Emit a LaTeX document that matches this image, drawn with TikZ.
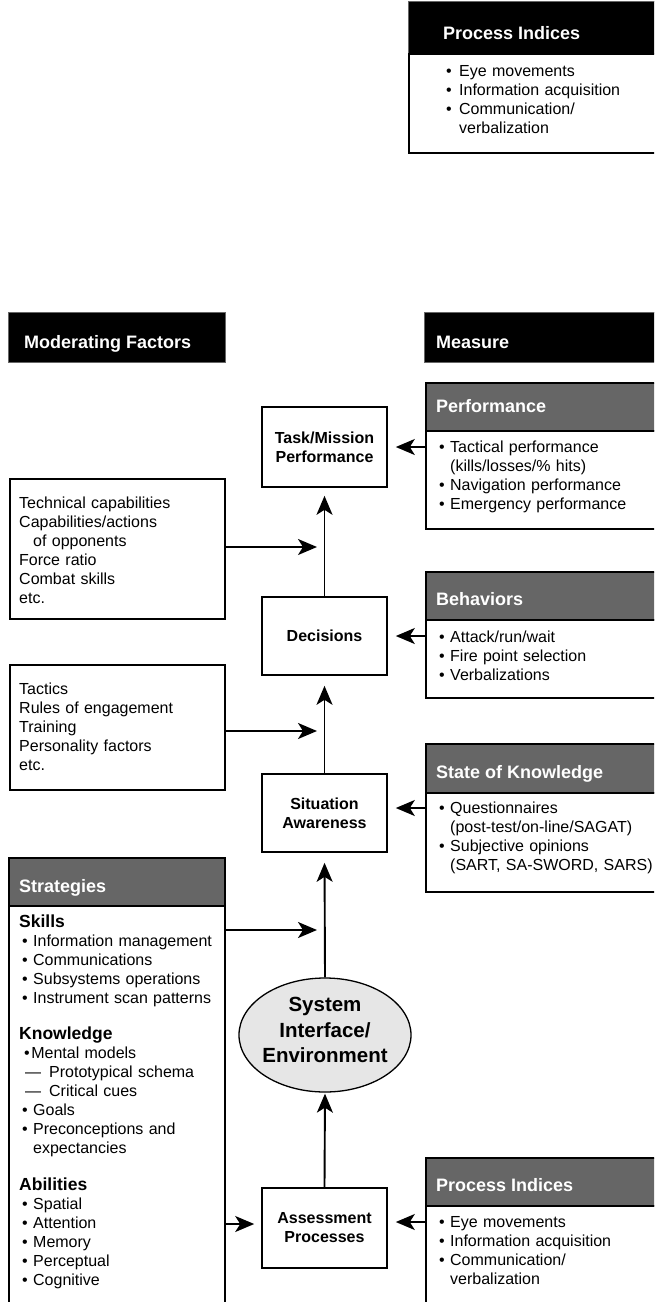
\documentclass[tikz,border=0pt]{standalone}
\usepackage{fontspec}
\setmainfont{Liberation Sans}
\usetikzlibrary{arrows.meta,shapes.geometric}
\definecolor{hdrgray}{HTML}{666666}
\definecolor{envgray}{HTML}{E6E6E6}
\newcommand\fntbody{\fontsize{16}{19}\selectfont}
\newcommand\fnthdr{\fontsize{18}{21}\selectfont\bfseries}
\newcommand\fntlbl{\fontsize{16}{19}\selectfont\bfseries}
\newcommand\fntsec{\fontsize{17.5}{19}\selectfont\bfseries}
\newcommand\fntenv{\fontsize{20.5}{25.5}\selectfont\bfseries}
\newcommand\itm[1]{\hspace*{3pt}\makebox[11pt][l]{•}#1}
\newcommand\cont[1]{\hspace*{14pt}#1}
\tikzset{
  box/.style={draw, line width=1.6pt, rectangle, inner sep=0pt, anchor=north west},
  blackhdr/.style={fill=black, draw=black!60, line width=0.6pt, rectangle, inner sep=0pt, anchor=north west},
  grayhdr/.style={fill=hdrgray, draw=black, line width=1.6pt, rectangle, inner sep=0pt, anchor=north west},
  hdrtext/.style={text=white, font=\fnthdr, inner sep=0pt, anchor=base west},
  listtext/.style={font=\fntbody, inner sep=0pt, anchor=north west, align=left, text width=228pt},
  cbox/.style={draw, line width=1.6pt, rectangle, inner sep=0pt, minimum width=125pt, align=center, font=\fntlbl},
  arr/.style={-{Stealth[length=19pt,width=16pt,inset=5pt]}, line width=1.9pt},
}
\begin{document}
\begin{tikzpicture}[x=1pt,y=-1pt]
\useasboundingbox (0,0) rectangle (654,1302);
\clip (0,0) rectangle (654,1302);

% top fragment: Process Indices
\node[blackhdr, minimum width=260pt, minimum height=52pt] (tophdr) at (408,1) {};
\node[box, minimum width=260pt, minimum height=99pt] (topbody) at (408,53) {};
\node[hdrtext] (tophdrtxt) at (443,39) {Process Indices};
\node[listtext] (toplist) at (443,63) {\noindent\strut\hspace*{3pt}\makebox[13pt][l]{•}Eye movements\\
\hspace*{3pt}\makebox[13pt][l]{•}Information acquisition\\
\hspace*{3pt}\makebox[13pt][l]{•}Communication/\\
\hspace*{16pt}verbalization};

% column headers
\node[blackhdr, minimum width=217pt, minimum height=50pt] (modhdr) at (8,312) {};
\node[hdrtext] (modhdrtxt) at (24,348) {Moderating Factors};
\node[blackhdr, minimum width=240pt, minimum height=50pt] (meashdr) at (424,312) {};
\node[hdrtext] (meashdrtxt) at (436,348) {Measure};

% central column
\node[cbox, minimum height=80pt] (task) at (324.5,447) {Task/Mission\\Performance};
\node[cbox, minimum height=78pt] (dec) at (324.5,636) {Decisions};
\node[cbox, minimum height=78pt] (sit) at (324.5,813) {Situation\\Awareness};
\node[ellipse, draw, line width=1.3pt, fill=envgray, minimum width=172pt, minimum height=114pt, inner sep=0pt] (env) at (325,1035) {};
\node[font=\fntenv, align=center, inner sep=0pt] (envtxt) at (325,1030) {System\\Interface/\\Environment};
\node[cbox, minimum height=80pt] (assess) at (324.5,1228) {Assessment\\Processes};

% moderating factor boxes
\node[box, minimum width=215pt, minimum height=140pt] (mod1) at (9,478) {};
\node[listtext] (mod1txt) at (19,495) {\noindent\strut Technical capabilities\\
Capabilities/actions\\
\cont{}of opponents\\
Force ratio\\
Combat skills\\
etc.};
\node[box, minimum width=215pt, minimum height=125pt] (mod2) at (9,664) {};
\node[listtext] (mod2txt) at (19,681) {\noindent\strut Tactics\\
Rules of engagement\\
Training\\
Personality factors\\
etc.};

% strategies
\node[grayhdr, minimum width=216pt, minimum height=48pt] (strhdr) at (8,857) {};
\node[hdrtext] (strhdrtxt) at (19,892) {Strategies};
\node[box, minimum width=216pt, minimum height=420pt] (strbody) at (8,905) {};
\node[listtext] (strtxt) at (19,914) {\noindent\strut{\fntsec Skills}\\
\itm{Information management}\\
\itm{Communications}\\
\itm{Subsystems operations}\\
\itm{Instrument scan patterns}\\[17pt]
{\fntsec Knowledge}\\
\hspace*{5pt}•\hspace{1.5pt}Mental models\\
\hspace*{6pt}\makebox[24pt][l]{—}Prototypical schema\\
\hspace*{6pt}\makebox[24pt][l]{—}Critical cues\\
\itm{Goals}\\
\itm{Preconceptions and}\\
\cont{expectancies}\\[18pt]
{\fntsec Abilities}\\
\itm{Spatial}\\
\itm{Attention}\\
\itm{Memory}\\
\itm{Perceptual}\\
\itm{Cognitive}};

% measure boxes
\node[grayhdr, minimum width=240pt, minimum height=48pt] (perfhdr) at (425,382) {};
\node[box, minimum width=240pt, minimum height=98pt] (perfbody) at (425,430) {};
\node[hdrtext] (perfhdrtxt) at (436,412) {Performance};
\node[listtext] (perftxt) at (436,439) {\noindent\strut\itm{Tactical performance}\\
\cont{(kills/losses/\% hits)}\\
\itm{Navigation performance}\\
\itm{Emergency performance}};

\node[grayhdr, minimum width=240pt, minimum height=48pt] (behhdr) at (425,571) {};
\node[box, minimum width=240pt, minimum height=78pt] (behbody) at (425,619) {};
\node[hdrtext] (behhdrtxt) at (436,605) {Behaviors};
\node[listtext] (behtxt) at (436,629) {\noindent\strut\itm{Attack/run/wait}\\
\itm{Fire point selection}\\
\itm{Verbalizations}};

\node[grayhdr, minimum width=240pt, minimum height=49pt] (sokhdr) at (425,743) {};
\node[box, minimum width=240pt, minimum height=99pt] (sokbody) at (425,792) {};
\node[hdrtext] (sokhdrtxt) at (436,778) {State of Knowledge};
\node[listtext] (soktxt) at (436,800) {\noindent\strut\itm{Questionnaires}\\
\cont{(post-test/on-line/SAGAT)}\\
\itm{Subjective opinions}\\
\cont{(SART, SA-SWORD, SARS)}};

\node[grayhdr, minimum width=240pt, minimum height=48pt] (prohdr) at (425,1157) {};
\node[box, minimum width=240pt, minimum height=150pt] (probody) at (425,1205) {};
\node[hdrtext] (prohdrtxt) at (436,1191) {Process Indices};
\node[listtext] (protxt) at (436,1214) {\noindent\strut\itm{Eye movements}\\
\itm{Information acquisition}\\
\itm{Communication/}\\
\cont{verbalization}};

% junction coordinates
\coordinate (j1) at (325,547);
\coordinate (j2) at (325,731);
\coordinate (j3) at (325,930);
\coordinate (ya) at (0,1224);
\coordinate (ys) at (0,808);
\coordinate (yp) at (0,1222);

% vertical arrows
\draw[arr, shorten >=8pt] (dec.north) -- (task.south);
\draw[arr, shorten >=10pt] (sit.north) -- (dec.south);
\draw[arr, shorten >=10pt] (env.north) -- (sit.south);
\draw[arr, shorten >=1pt] (assess.north) -- (env.south);

% left arrows
\draw[arr, shorten >=8pt] (mod1.east |- j1) -- (j1);
\draw[arr, shorten >=8pt] (mod2.east |- j2) -- (j2);
\draw[arr, shorten >=8pt] (strbody.east |- j3) -- (j3);
\draw[arr, shorten >=7pt] (strbody.east |- ya) -- (assess.west |- ya);

% right arrows
\draw[arr, shorten >=8pt] (perfbody.west |- task.east) -- (task.east);
\draw[arr, shorten >=8pt] (behbody.west |- dec.east) -- (dec.east);
\draw[arr, shorten >=8pt] (sokbody.west |- ys) -- (sit.east |- ys);
\draw[arr, shorten >=8pt] (probody.west |- yp) -- (assess.east |- yp);
\end{tikzpicture}
\end{document}
